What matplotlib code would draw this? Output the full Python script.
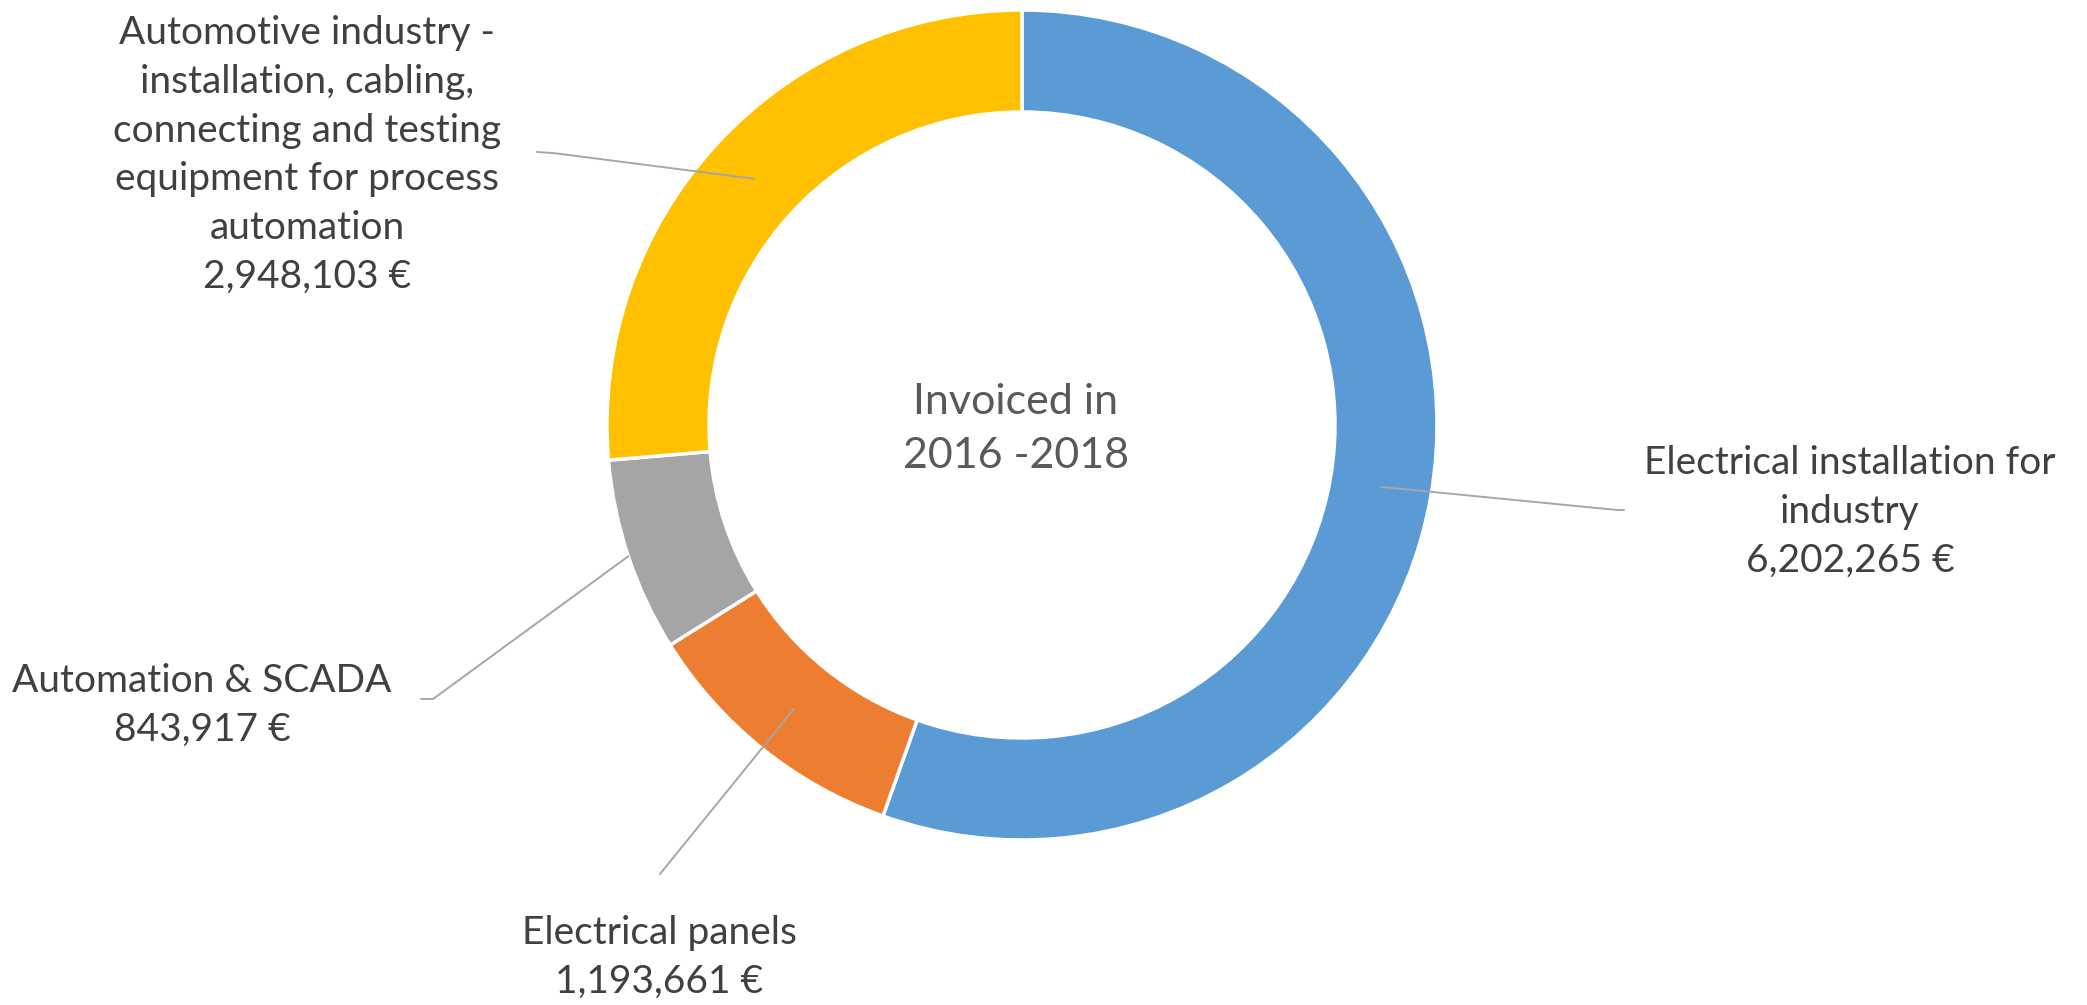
import numpy as np
import matplotlib
matplotlib.use("Agg")
import matplotlib.pyplot as plt

labels = ["Electrical installation for\nindustry",
          "Electrical panels",
          "Automation & SCADA",
          "Automotive industry -\ninstallation, cabling,\nconnecting and testing\nequipment for process\nautomation"]
values = [6202265, 1193661, 843917, 2948103]
colors = ["#5B9BD5", "#ED7D31", "#A5A5A5", "#FFC000"]

W, H = 2087, 1005
plt.rcParams['font.family'] = ['Lato', 'DejaVu Sans']

fig = plt.figure(figsize=(W / 100, H / 100), dpi=100)
ax = fig.add_axes([0, 0, 1, 1])

cx, cy = 1022, H - 425
r_out, r_in = 415, 313
ax.pie(values, colors=colors, startangle=90, counterclock=False,
       center=(cx, cy), radius=r_out,
       wedgeprops=dict(width=r_out - r_in, edgecolor="white", linewidth=2.5))
ax.set_xlim(0, W)
ax.set_ylim(0, H)
ax.set_aspect("equal")
ax.axis("off")

# mid angle of each wedge (clockwise from top)
frac = np.array(values) / sum(values)
mid = np.cumsum(frac) - frac / 2
ang = np.deg2rad(90 - mid * 360)

# label centers (pixels from top-left), elbow points, anchor radius
lab_pos = [(1850, 512), (659, 957), (202, 705), (307, 155)]
elbows = [[(1624, 510), (1617, 510)],
          [(660, 874)],
          [(421, 699), (433, 699)],
          [(537, 152), (553, 153)]]
anchor_r = [(r_in + r_out) / 2, (r_in + r_out) / 2, r_out, (r_in + r_out) / 2]

for i in range(len(values)):
    ax_ = cx + anchor_r[i] * np.cos(ang[i])
    ay_ = cy + anchor_r[i] * np.sin(ang[i])
    pts = [(x, H - y) for x, y in elbows[i]] + [(ax_, ay_)]
    xs, ys = zip(*pts)
    ax.plot(xs, ys, color="#A6A6A6", lw=1.4, solid_capstyle="round")
    txt = labels[i] + "\n" + f"{values[i]:,} €"
    ax.text(lab_pos[i][0], H - lab_pos[i][1], txt, ha="center", va="center",
            fontsize=28, color="#404040", linespacing=1.44)

ax.text(1016, H - 429, "Invoiced in\n2016 -2018", ha="center", va="center",
        fontsize=31, color="#595959", linespacing=1.5)

fig.savefig("out.png", dpi=100)
